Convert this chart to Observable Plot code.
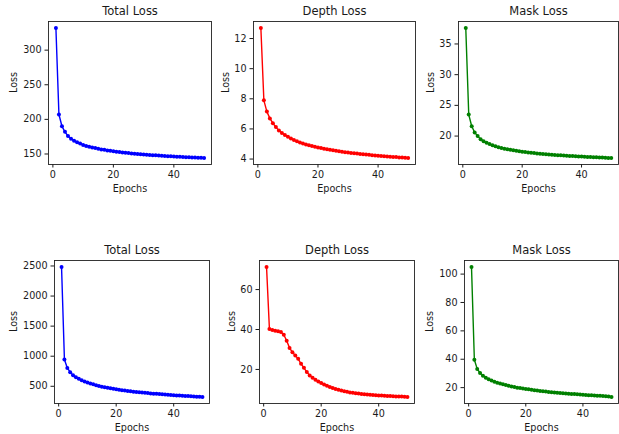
<!DOCTYPE html>
<html>
<head>
<meta charset="utf-8">
<script src="https://cdn.jsdelivr.net/npm/d3@7"></script>
<script src="https://cdn.jsdelivr.net/npm/@observablehq/plot@0.6"></script>
<style>
  html, body { margin: 0; padding: 0; background: white; }
  #fig { position: relative; width: 619px; height: 434px; overflow: hidden; background: white; }
</style>
</head>
<body>
<div id="fig"></div>
<script>
const epochs = [1,2,3,4,5,6,7,8,9,10,11,12,13,14,15,16,17,18,19,20,21,22,23,24,25,26,27,28,29,30,31,32,33,34,35,36,37,38,39,40,41,42,43,44,45,46,47,48,49,50];

const totalLossA = [332,207,190,182,176,172,169,167,165,163,161.5,160.5,159.5,158.5,157.5,156.5,156,155,154.5,154,153.2,152.7,152.2,151.7,151.3,150.8,150.4,150,149.7,149.3,149,148.6,148.3,148,147.7,147.4,147.1,146.9,146.6,146.4,146.1,145.9,145.6,145.4,145.2,145,144.8,144.6,144.4,144.2];
const depthLossA = [12.7,7.9,7.15,6.7,6.38,6.12,5.9,5.73,5.6,5.48,5.37,5.27,5.18,5.1,5.03,4.97,4.91,4.86,4.81,4.77,4.73,4.69,4.65,4.61,4.58,4.55,4.52,4.49,4.46,4.44,4.41,4.39,4.37,4.34,4.32,4.3,4.28,4.26,4.24,4.22,4.21,4.19,4.17,4.16,4.14,4.13,4.11,4.1,4.09,4.07];
const maskLossA = [37.6,23.5,21.6,20.6,20.0,19.5,19.15,18.9,18.7,18.5,18.35,18.2,18.07,17.95,17.85,17.76,17.68,17.6,17.53,17.46,17.4,17.34,17.28,17.23,17.18,17.13,17.08,17.04,17.0,16.96,16.93,16.89,16.86,16.83,16.8,16.77,16.74,16.71,16.68,16.66,16.63,16.61,16.58,16.56,16.54,16.52,16.5,16.47,16.45,16.43];

const totalLossB = [2483,945,805,735,685,652,625,600,580,562,546,532,518,505,494,484,475,466,458,450,443,436,429,423,417,411,406,401,396,391,387,382,378,374,370,366,363,359,356,352,349,346,343,340,337,334,331,328,325,322];
const depthLossB = [71.3,40.2,39.75,39.4,39.1,38.8,37.4,34.4,30.8,28.6,27.0,25.3,22.8,20.8,18.7,17.0,15.9,14.9,13.9,13.2,12.5,11.8,11.2,10.7,10.2,9.8,9.4,9.1,8.8,8.5,8.3,8.1,7.9,7.7,7.55,7.4,7.3,7.2,7.1,7.0,6.9,6.8,6.75,6.7,6.6,6.5,6.45,6.4,6.3,6.2];
const maskLossB = [105,39.6,33.2,30.3,28.3,27.0,25.9,25.0,24.2,23.5,22.9,22.3,21.8,21.3,20.8,20.4,20.0,19.7,19.4,19.1,18.8,18.5,18.2,17.9,17.7,17.45,17.2,17.0,16.8,16.6,16.4,16.2,16.05,15.9,15.75,15.6,15.45,15.3,15.15,15.0,14.85,14.7,14.6,14.45,14.3,14.2,14.05,13.9,13.7,13.4];

const xTicks = [0, 20, 40];
const yTicksTotalA = [150, 200, 250, 300];
const yTicksDepthA = [4, 6, 8, 10, 12];
const yTicksMaskA = [20, 25, 30, 35];
const yTicksTotalB = [500, 1000, 1500, 2000, 2500];
const yTicksDepthB = [20, 40, 60];
const yTicksMaskB = [20, 40, 60, 80, 100];

const titles = ["Total Loss", "Depth Loss", "Mask Loss"];
const xLabel = "Epochs";
const yLabel = "Loss";

const W = 619, H = 434;

function pad(ext) {
  const r = ext[1] - ext[0];
  return [ext[0] - 0.05 * r, ext[1] + 0.05 * r];
}

function panel({values, yTicks, color, title, box, labelOff}) {
  const data = epochs.map((e, i) => ({epoch: e, loss: values[i]}));
  const [l, t, r, b] = box;
  return Plot.plot({
    width: W,
    height: H,
    marginLeft: l,
    marginTop: t,
    marginRight: W - r,
    marginBottom: H - b,
    style: "background: none; position: absolute; left: 0; top: 0; overflow: visible; font-family: 'DejaVu Sans', sans-serif; font-size: 9.6px; color: #1a1a1a;",
    x: {domain: pad(d3.extent(epochs))},
    y: {domain: pad(d3.extent(values))},
    marks: [
      Plot.axisX({ticks: xTicks, tickSize: 3.5, tickPadding: 3.5, label: null, tickFormat: d => String(d), fontSize: 9.6}),
      Plot.axisY({ticks: yTicks, tickSize: 3.5, tickPadding: 3.5, label: null, tickFormat: d => String(d), fontSize: 9.6}),
      Plot.line(data, {x: "epoch", y: "loss", stroke: color, strokeWidth: 1.4}),
      Plot.dot(data, {x: "epoch", y: "loss", fill: color, r: 2, stroke: "none"}),
      Plot.frame({stroke: "#222", strokeWidth: 0.9}),
      Plot.text([title], {text: d => d, frameAnchor: "top", lineAnchor: "bottom", dy: -6.5, fontSize: 11.5}),
      Plot.text([xLabel], {text: d => d, frameAnchor: "bottom", dy: 27, fontSize: 9.6}),
      Plot.text([yLabel], {text: d => d, frameAnchor: "left", dx: -labelOff, rotate: -90, fontSize: 9.6})
    ]
  });
}

const fig = document.getElementById("fig");
const panels = [
  {values: totalLossA, yTicks: yTicksTotalA, color: "#0000ff", title: titles[0], box: [48, 21, 211, 164], labelOff: 35},
  {values: depthLossA, yTicks: yTicksDepthA, color: "#ff0000", title: titles[1], box: [253, 21, 415, 164], labelOff: 28},
  {values: maskLossA, yTicks: yTicksMaskA, color: "#008000", title: titles[2], box: [458, 21, 618, 164], labelOff: 28},
  {values: totalLossB, yTicks: yTicksTotalB, color: "#0000ff", title: titles[0], box: [54, 260, 209, 403], labelOff: 41},
  {values: depthLossB, yTicks: yTicksDepthB, color: "#ff0000", title: titles[1], box: [259, 260, 414, 403], labelOff: 28},
  {values: maskLossB, yTicks: yTicksMaskB, color: "#008000", title: titles[2], box: [464, 260, 618, 403], labelOff: 35}
];
for (const p of panels) fig.appendChild(panel(p));
</script>
</body>
</html>
